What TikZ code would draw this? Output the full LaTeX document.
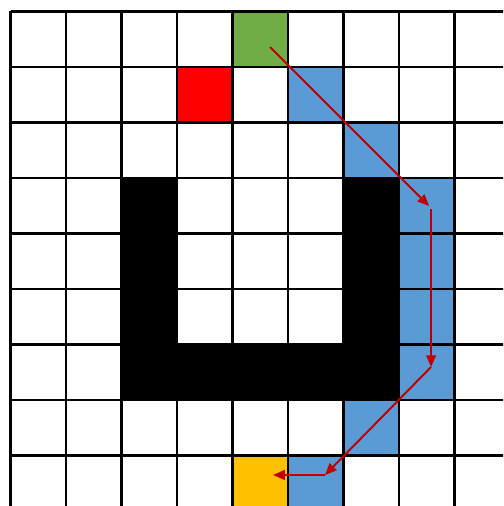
\documentclass[tikz,border=0pt]{standalone}
\usetikzlibrary{arrows.meta}
\definecolor{startgreen}{HTML}{70AD47}
\definecolor{goalyellow}{HTML}{FFC000}
\definecolor{pathblue}{HTML}{5B9BD5}
\definecolor{arrowred}{HTML}{C00000}
\tikzset{
  cell/.style={line width=0pt},
  gridline/.style={line width=1.2pt, black},
  patharrow/.style={-{Triangle[length=6pt, width=5pt]}, line width=1pt, arrowred}
}
\begin{document}
\begin{tikzpicture}[scale=1]
        \useasboundingbox (-0.19,0.207) rectangle (8.873,-8.91);
        \clip (-0.19,0.207) rectangle (8.873,-8.91);

        % Cells
        \fill[startgreen] (4,0) rectangle (5,-1);
        \fill[red] (3,-1) rectangle (4,-2);
        \fill[goalyellow] (4,-8) rectangle (5,-9);
        \foreach \c/\r in {5/1, 6/2, 7/3, 7/4, 7/5, 7/6, 6/7, 5/8}
            \fill[pathblue] (\c,-\r) rectangle ++(1,-1);

        % Obstacle
        \fill[black] (2,-3) rectangle (3,-7);
        \fill[black] (6,-3) rectangle (7,-7);
        \fill[black] (2,-6) rectangle (7,-7);

        % Grid
        \foreach \i in {0,...,9} {
            \draw[gridline] (\i,0) -- (\i,-9.5);
            \draw[gridline] (0,-\i) -- (9.5,-\i);
        }

        % Path points
        \coordinate (p0) at (4.676,-0.640);
        \coordinate (p1) at (7.541,-3.505);
        \coordinate (p2) at (7.577,-3.559);
        \coordinate (p3) at (7.577,-6.405);
        \coordinate (p4) at (5.667,-8.351);
        \coordinate (p5) at (4.730,-8.351);

        % Arrows
        \draw[patharrow] (p0) -- (p1);
        \draw[patharrow] (p2) -- (p3);
        \draw[patharrow] (p3) -- (p4);
        \draw[patharrow] (p4) -- (p5);
    \end{tikzpicture}
\end{document}
